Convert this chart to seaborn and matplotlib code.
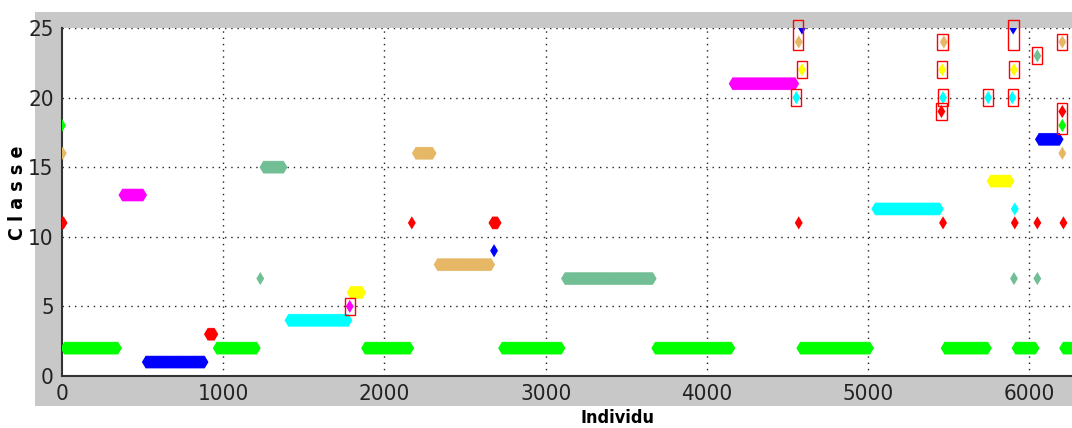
import numpy as np
import pandas as pd
import matplotlib.pyplot as plt
import seaborn as sns
from matplotlib.patches import Rectangle

# ----------------------------------------------------------
# Données : plages d'individus affectées à une classe
# ----------------------------------------------------------

run_start = [15, 520, 905, 960, 375, 1250, 1405, 1790, 1880, 2195, 2330, 2670,
             2730, 3120, 3680, 4160, 4580, 5045, 5475, 5760, 5915, 6060, 6210]
run_end = [350, 885, 945, 1210, 505, 1375, 1780, 1865, 2160, 2300, 2665, 2705,
           3100, 3665, 4155, 4550, 5015, 5445, 5745, 5885, 6040, 6190, 6280]
run_class = [2, 1, 3, 2, 13, 15, 4, 6, 2, 16, 8, 11,
             2, 7, 2, 21, 2, 12, 2, 14, 2, 17, 2]
run_color = ["vert", "bleu", "rouge", "vert", "magenta", "turquoise", "cyan", "jaune",
             "vert", "ocre", "ocre", "rouge", "vert", "turquoise", "vert", "magenta",
             "vert", "cyan", "vert", "jaune", "vert", "bleu", "vert"]

# individus isolés
pt_x = [0, 10, 5, 5, 1230, 1785, 2170, 2680, 4555, 4570, 4590, 4590, 4570,
        5455, 5460, 5465, 5470, 5465, 5745, 5895, 5900, 5905, 5910, 5910, 5905,
        6050, 6050, 6050, 6205, 6205, 6205, 6205, 6212]
pt_class = [18, 11, 16, 11, 7, 5, 11, 9, 20, 24, 25, 22, 11,
            19, 22, 20, 24, 11, 20, 20, 25, 22, 12, 11, 7,
            23, 11, 7, 16, 24, 19, 18, 11]
pt_color = ["vert", "rouge", "ocre", "rouge", "turquoise", "magenta", "rouge", "bleu",
            "cyan", "ocre", "bleu", "jaune", "rouge",
            "rouge", "jaune", "cyan", "ocre", "rouge", "cyan", "cyan", "bleu", "jaune",
            "cyan", "rouge", "turquoise", "turquoise", "rouge", "turquoise",
            "ocre", "ocre", "rouge", "vert", "rouge"]

# individus mal classés encadrés en rouge : (individu, classe basse, classe haute)
box_x = [1785, 4565, 4590, 4555, 5462, 5457, 5465, 5455, 5745, 5903, 5905, 5898, 6050, 6205, 6205]
box_lo = [5, 24, 22, 20, 24, 22, 20, 19, 20, 24, 22, 20, 23, 24, 18]
box_hi = [5, 25, 22, 20, 24, 22, 20, 19, 20, 25, 22, 20, 23, 24, 19]

palette = {"vert": "#00ff00", "bleu": "#0000ff", "rouge": "#ff0000",
           "magenta": "#ff00ff", "cyan": "#00ffff", "jaune": "#ffff00",
           "ocre": "#e6b865", "turquoise": "#73bf95"}

rows = []
for s, e, c, col in zip(run_start, run_end, run_class, run_color):
    for i in np.arange(s, e + 1, 4):
        rows.append((i, c, col))
for i, c, col in zip(pt_x, pt_class, pt_color):
    rows.append((i, c, col))
df = pd.DataFrame(rows, columns=["Individu", "Classe", "couleur"])

# ----------------------------------------------------------
# Figure
# ----------------------------------------------------------

sns.set_style("white")
plt.rcParams["font.family"] = ["DejaVu Sans"]
plt.rcParams["font.stretch"] = "condensed"

fig = plt.figure(figsize=(10.72, 4.28), dpi=100, facecolor="white")
fig.patches.append(Rectangle((35 / 1072, 22 / 428), 1 - 35 / 1072, (406 - 12) / 428,
                             transform=fig.transFigure, facecolor="#c8c8c8",
                             edgecolor="none", zorder=-10))
ax = fig.add_axes([62 / 1072, 52 / 428, 1 - 62 / 1072, 348 / 428])
ax.set_zorder(1)
ax.set_facecolor("white")

sns.scatterplot(data=df, x="Individu", y="Classe", hue="couleur", palette=palette,
                marker="d", s=45, linewidth=0, legend=False, ax=ax, zorder=3)

for x, lo, hi in zip(box_x, box_lo, box_hi):
    ax.add_patch(Rectangle((x - 32, lo - 0.6), 64, hi - lo + 1.2, fill=False,
                           edgecolor="red", linewidth=1.0, zorder=4, clip_on=False))

ax.set_xlim(0, 6265)
ax.set_ylim(0, 25)
ax.set_xticks(range(0, 7000, 1000))
ax.set_yticks(range(0, 30, 5))
for v in range(1000, 7000, 1000):
    ax.axvline(v, color="#222222", linestyle=(0, (1, 3.5)), linewidth=1.0, zorder=1)
for v in range(5, 30, 5):
    ax.axhline(v, color="#222222", linestyle=(0, (1, 3.5)), linewidth=1.0, zorder=1)

for side in ["top", "right"]:
    ax.spines[side].set_visible(False)
for side in ["left", "bottom"]:
    ax.spines[side].set_color("#333333")
    ax.spines[side].set_linewidth(1.5)

ax.tick_params(direction="in", length=9, width=1.2, color="#333333",
               labelsize=16, labelcolor="#222222", pad=6)

ax.set_xlabel("")
ax.set_ylabel("")
fig.text(617 / 1072, 1 - 418 / 428, "Individu", ha="center", va="center",
         fontsize=13, fontweight="bold", color="black")
fig.text(18 / 1072, 1 - 193 / 428, "C l a s s e", ha="center", va="center",
         rotation=90, fontsize=14, fontweight="bold", color="black")

fig.savefig("out.png", dpi=100, facecolor="white")
